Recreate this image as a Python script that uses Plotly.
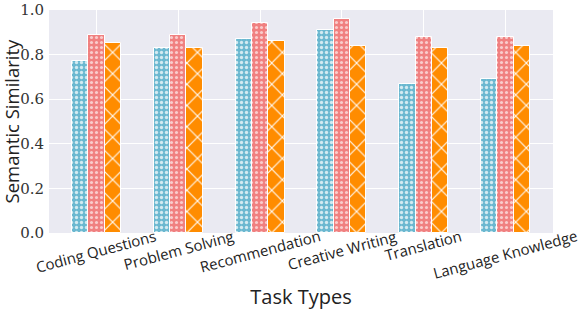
import plotly.graph_objects as go

categories = ["Coding Questions", "Problem Solving", "Recommendation",
              "Creative Writing", "Translation", "Language Knowledge"]
series_a = [0.77, 0.83, 0.87, 0.91, 0.67, 0.69]
series_b = [0.89, 0.89, 0.94, 0.96, 0.88, 0.88]
series_c = [0.85, 0.83, 0.86, 0.84, 0.83, 0.84]
y_ticks = [0.0, 0.2, 0.4, 0.6, 0.8, 1.0]

xs = list(range(len(categories)))
offsets = [-0.2, 0.0, 0.2]
colors = ["#6bb8d0", "#f08080", "#ff8c00"]
patterns = [dict(shape=".", size=5, solidity=0.35, fgcolor="white", fgopacity=0.7),
            dict(shape=".", size=5, solidity=0.3, fgcolor="white", fgopacity=0.6),
            dict(shape="x", size=15, solidity=0.15, fgcolor="white", fgopacity=0.95)]

fig = go.Figure()
for vals, off, col, pat in zip([series_a, series_b, series_c], offsets, colors, patterns):
    fig.add_trace(go.Bar(
        x=[x + off for x in xs], y=vals, width=0.2,
        marker=dict(color=col, line=dict(color="white", width=1), pattern=pat),
        showlegend=False, cliponaxis=False, hoverinfo="skip",
    ))

for x, c in zip(xs, categories):
    fig.add_annotation(x=x, y=0, xref="x", yref="paper", text=c, showarrow=False,
                       textangle=-15, xanchor="center", yanchor="top", yshift=10,
                       font=dict(family="Open Sans, DejaVu Sans", size=15, color="#222"))

fig.add_annotation(x=0, y=0.5, xref="paper", yref="paper", text="Semantic Similarity",
                   showarrow=False, textangle=-90, xanchor="center", yanchor="middle",
                   xshift=-38, font=dict(family="Open Sans, DejaVu Sans", size=18.5, color="#222"))

fig.update_layout(
    width=581, height=313,
    margin=dict(l=49, r=28, t=10, b=80, autoexpand=False),
    plot_bgcolor="#EAEAF2", paper_bgcolor="white",
    bargap=0, barmode="overlay",
    xaxis=dict(range=[-0.58, 5.58], tickvals=xs, ticktext=[""] * len(xs), automargin=False,
               showgrid=True, gridcolor="white", gridwidth=1, zeroline=False,
               title=dict(text="Task Types", standoff=56,
                          font=dict(family="Open Sans, DejaVu Sans", size=20, color="#222"))),
    yaxis=dict(range=[0, 1], tickvals=y_ticks, ticktext=[f"{v:.1f}" for v in y_ticks],
               automargin=False, ticklabelstandoff=4, ticklabeloverflow="allow",
               showgrid=True, gridcolor="white", gridwidth=1, zeroline=False,
               tickfont=dict(family="DejaVu Serif", size=15, color="#333")),
)

fig.write_html("out.html", config={"displayModeBar": False},
               post_script="document.body.style.margin='0';")
